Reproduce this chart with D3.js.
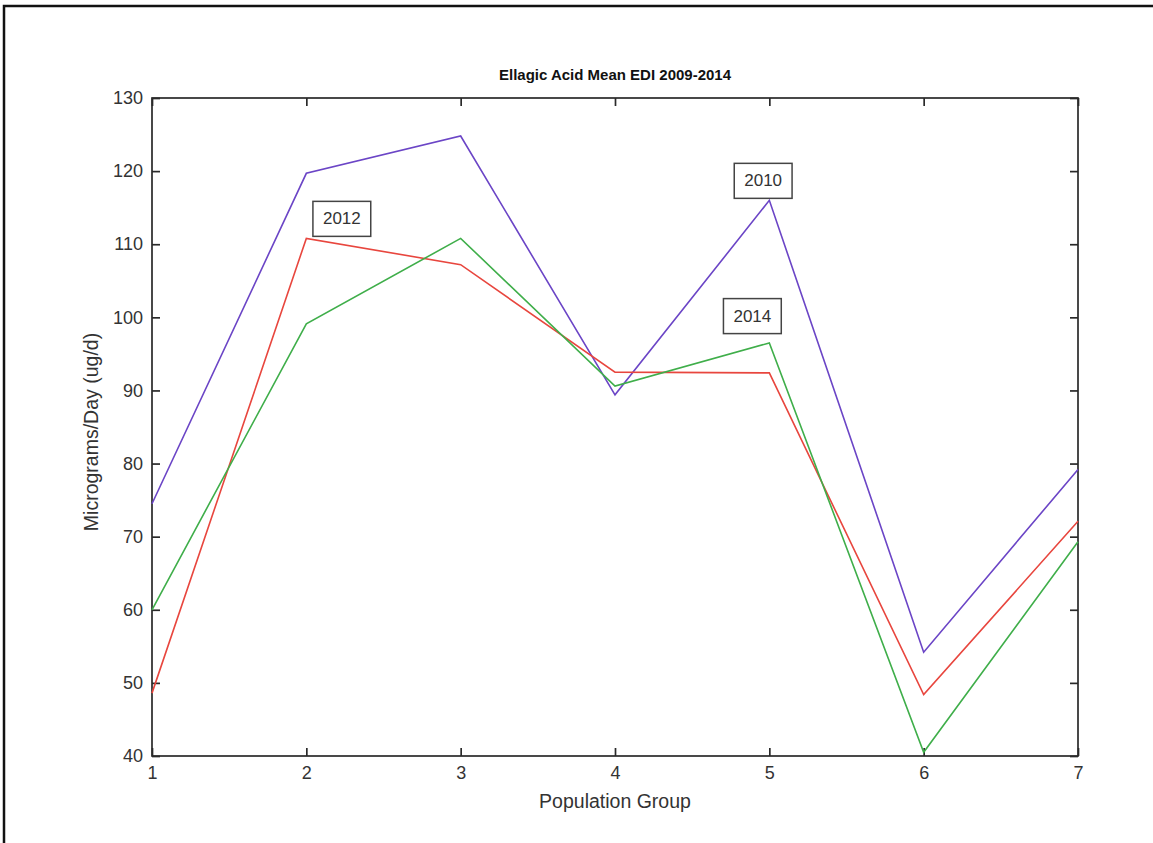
<!DOCTYPE html>
<html>
<head>
<meta charset="utf-8">
<script src="https://cdn.jsdelivr.net/npm/d3@7"></script>
<style>
  body { margin: 0; background: #fff; }
  text { font-family: "Liberation Sans", Arial, sans-serif; }
</style>
</head>
<body>
<svg id="chart" width="1153" height="843"></svg>
<script>
// data
const groups = [1, 2, 3, 4, 5, 6, 7];
const yTicks = [40, 50, 60, 70, 80, 90, 100, 110, 120, 130];
const values2010 = [74.5, 119.7, 124.8, 89.4, 116.0, 54.2, 79.2];
const values2012 = [48.6, 110.8, 107.2, 92.5, 92.4, 48.4, 72.1];
const values2014 = [60.0, 99.1, 110.8, 90.6, 96.5, 40.5, 69.3];
const seriesNames = ["2010", "2012", "2014"];
const seriesColors = ["#6b45c6", "#e8463e", "#3fae4a"];
// text boxes placed in data coordinates, like the matlab text objects
const labelNames = ["2012", "2010", "2014"];
const labelX = [2.23, 4.96, 4.89];
const labelY = [113.6, 118.8, 100.3];

const svg = d3.select("#chart");
const width = +svg.attr("width");
const height = +svg.attr("height");

// outer figure frame (runs off the right and bottom of the image)
svg.append("rect")
    .attr("x", 4)
    .attr("y", 6)
    .attr("width", width + 20)
    .attr("height", height + 20)
    .attr("fill", "none")
    .attr("stroke", "#111")
    .attr("stroke-width", 2.5);

const margin = { top: 98, right: 75, bottom: 87, left: 152 };
const x = d3.scaleLinear()
    .domain([1, 7])
    .range([margin.left, width - margin.right]);
const y = d3.scaleLinear()
    .domain([40, 130])
    .range([height - margin.bottom, margin.top]);

const axisColor = "#2a2a2a";
const tickLen = 8;

// box around plot
svg.append("rect")
    .attr("x", x(1))
    .attr("y", y(130))
    .attr("width", x(7) - x(1))
    .attr("height", y(40) - y(130))
    .attr("fill", "none")
    .attr("stroke", axisColor)
    .attr("stroke-width", 1.7);

// axes with ticks pointing inward
svg.append("g")
    .attr("transform", `translate(0,${y(40)})`)
    .call(d3.axisBottom(x).tickValues(groups).tickFormat(d3.format("d")).tickSizeInner(-tickLen).tickSizeOuter(0).tickPadding(10))
    .call(g => g.select(".domain").remove());
svg.append("g")
    .attr("transform", `translate(0,${y(130)})`)
    .call(d3.axisTop(x).tickValues(groups).tickFormat("").tickSizeInner(-tickLen).tickSizeOuter(0))
    .call(g => g.select(".domain").remove());
svg.append("g")
    .attr("transform", `translate(${x(1)},0)`)
    .call(d3.axisLeft(y).tickValues(yTicks).tickFormat(d3.format("d")).tickSizeInner(-tickLen).tickSizeOuter(0).tickPadding(9))
    .call(g => g.select(".domain").remove());
svg.append("g")
    .attr("transform", `translate(${x(7)},0)`)
    .call(d3.axisRight(y).tickValues(yTicks).tickFormat("").tickSizeInner(-tickLen).tickSizeOuter(0))
    .call(g => g.select(".domain").remove());

svg.selectAll(".tick line")
    .attr("stroke", axisColor)
    .attr("stroke-width", 1.7);
svg.selectAll(".tick text")
    .attr("fill", "#333")
    .attr("font-size", 18)
    .attr("font-family", "Liberation Sans, Arial, sans-serif");

// lines
const series = [values2010, values2012, values2014];
const line = d3.line()
    .x((d, i) => x(groups[i]))
    .y(d => y(d));

svg.append("g")
    .selectAll("path")
    .data(series)
    .join("path")
    .attr("d", line)
    .attr("fill", "none")
    .attr("stroke", (d, i) => seriesColors[i])
    .attr("stroke-width", 1.6)
    .attr("stroke-linejoin", "miter");

// year labels in boxes
labelNames.forEach((name, i) => {
    const g = svg.append("g")
        .attr("transform", `translate(${x(labelX[i])},${y(labelY[i])})`);
    const t = g.append("text")
        .attr("text-anchor", "middle")
        .attr("dy", "0.38em")
        .attr("font-size", 17)
        .attr("fill", "#333")
        .text(name);
    const bb = t.node().getBBox();
    g.insert("rect", "text")
        .attr("x", bb.x - 10)
        .attr("y", bb.y - 8)
        .attr("width", bb.width + 20)
        .attr("height", bb.height + 16)
        .attr("fill", "none")
        .attr("stroke", "#444")
        .attr("stroke-width", 1.5);
});

// title and axis labels
svg.append("text")
    .attr("x", (x(1) + x(7)) / 2)
    .attr("y", 80)
    .attr("text-anchor", "middle")
    .attr("font-size", 15)
    .attr("font-weight", "bold")
    .attr("fill", "#111")
    .text("Ellagic Acid Mean EDI 2009-2014");

svg.append("text")
    .attr("x", (x(1) + x(7)) / 2)
    .attr("y", 808)
    .attr("text-anchor", "middle")
    .attr("font-size", 19.5)
    .attr("fill", "#333")
    .text("Population Group");

svg.append("text")
    .attr("transform", `translate(98,${(y(40) + y(130)) / 2 + 5}) rotate(-90)`)
    .attr("text-anchor", "middle")
    .attr("font-size", 19.5)
    .attr("fill", "#333")
    .text("Micrograms/Day (ug/d)");
</script>
</body>
</html>
